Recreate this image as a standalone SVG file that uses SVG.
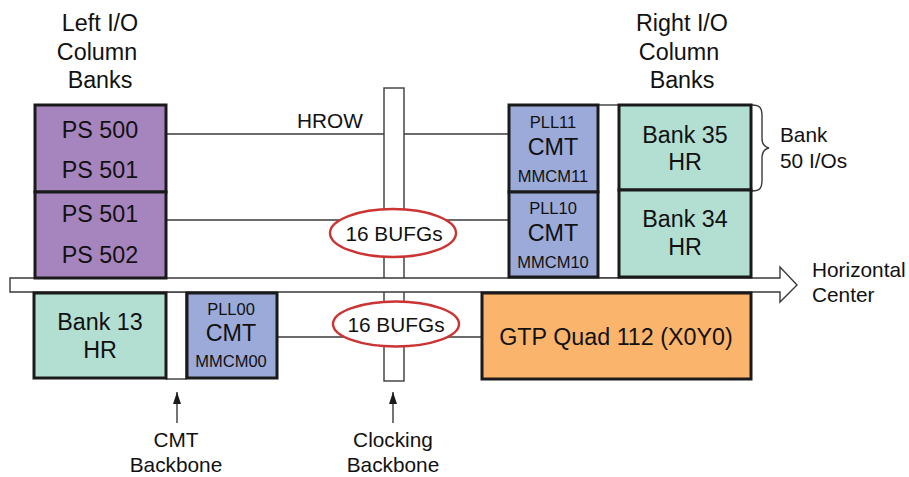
<svg xmlns="http://www.w3.org/2000/svg" width="909" height="477" viewBox="0 0 909 477">
<style>
text{font-family:"Liberation Sans",Arial,Helvetica,sans-serif;fill:#111;text-anchor:middle}
.t23{font-size:23.3px}
.t21{font-size:20.8px}
.t16{font-size:16.5px}
.box{stroke:#1a1a1a;stroke-width:3}
.ps{fill:#A685BF}
.hr{fill:#B3DFD2}
.cmt{fill:#9BAAD8}
.gtp{fill:#FBB46C}
.ln{stroke:#3a3a3a;stroke-width:1.4;fill:none}
.bar{fill:#fff;stroke:#3a3a3a;stroke-width:1.4}
.ell{fill:#fff;stroke:#CC3333;stroke-width:2.4}
</style>
<defs>
<marker id="ah" markerWidth="12" markerHeight="8" refX="12" refY="4" orient="auto" markerUnits="userSpaceOnUse" viewBox="0 0 12 8">
<path d="M0,0 L12,4 L0,8 Z" fill="#1a1a1a"/>
</marker>
</defs>

<g id="connectors">
<line class="ln" x1="166" y1="134" x2="509" y2="134"/>
<line class="ln" x1="166" y1="220" x2="509" y2="220"/>
<line class="ln" x1="277" y1="337" x2="482" y2="337"/>
<rect class="bar" x="384" y="88" width="20" height="293"/>
<rect class="bar" x="598" y="105" width="21" height="173"/>
<rect class="bar" x="166" y="292" width="20" height="87"/>
<line class="ln" x1="177" y1="423" x2="177" y2="392" marker-end="url(#ah)"/>
<line class="ln" x1="393" y1="423" x2="393" y2="392" marker-end="url(#ah)"/>
<path class="ln" d="M752,105 C760,105 762,108 762,116 L762,138 C762,144 764,147 769,148 C764,149 762,152 762,158 L762,180 C762,188 760,191 752,191"/>
</g>

<g id="hcenter">
<polygon points="10,278 780,278 780,267 797,285 780,302 780,292 10,292" fill="#fff" stroke="#3a3a3a" stroke-width="1.4"/>
</g>

<g id="left-title">
<text class="t23" x="100" y="31">Left I/O</text>
<text class="t23" x="97" y="60">Column</text>
<text class="t23" x="100" y="88">Banks</text>
</g>
<g id="right-title">
<text class="t23" x="682" y="31">Right I/O</text>
<text class="t23" x="679" y="60">Column</text>
<text class="t23" x="682" y="88">Banks</text>
</g>

<g id="ps500">
<rect class="box ps" x="35" y="105" width="131" height="87"/>
<text class="t23" x="100" y="138">PS 500</text>
<text class="t23" x="100" y="178">PS 501</text>
</g>
<g id="ps501">
<rect class="box ps" x="35" y="192" width="131" height="86"/>
<text class="t23" x="100" y="222">PS 501</text>
<text class="t23" x="100" y="263">PS 502</text>
</g>

<g id="hrow-label"><text class="t21" x="330" y="128">HROW</text></g>

<g id="bufg1">
<ellipse class="ell" cx="393" cy="233" rx="63" ry="24"/>
<text class="t21" x="394" y="241">16 BUFGs</text>
</g>
<g id="bufg2">
<ellipse class="ell" cx="396" cy="324" rx="63" ry="22.5"/>
<text class="t21" x="396" y="332">16 BUFGs</text>
</g>

<g id="cmt11">
<rect class="box cmt" x="509" y="105" width="89" height="87"/>
<text class="t16" x="553" y="128">PLL11</text>
<text class="t23" x="553" y="155">CMT</text>
<text class="t16" x="553" y="182">MMCM11</text>
</g>
<g id="cmt10">
<rect class="box cmt" x="509" y="192" width="89" height="85"/>
<text class="t16" x="553" y="214">PLL10</text>
<text class="t23" x="553" y="241">CMT</text>
<text class="t16" x="553" y="268">MMCM10</text>
</g>

<g id="bank35">
<rect class="box hr" x="619" y="105" width="132" height="85"/>
<text class="t23" x="685" y="143">Bank 35</text>
<text class="t23" x="685" y="170">HR</text>
</g>
<g id="bank34">
<rect class="box hr" x="619" y="190" width="132" height="87"/>
<text class="t23" x="685" y="227">Bank 34</text>
<text class="t23" x="685" y="255">HR</text>
</g>

<g id="bank-label">
<text class="t21" x="780" y="142" style="text-anchor:start">Bank</text>
<text class="t21" x="780" y="168" style="text-anchor:start">50 I/Os</text>
</g>
<g id="hcenter-label">
<text class="t21" x="812" y="277" style="text-anchor:start">Horizontal</text>
<text class="t21" x="812" y="302" style="text-anchor:start">Center</text>
</g>

<g id="bank13">
<rect class="box hr" x="34" y="293" width="132" height="85"/>
<text class="t23" x="100" y="330">Bank 13</text>
<text class="t23" x="100" y="358">HR</text>
</g>
<g id="cmt00">
<rect class="box cmt" x="187" y="293" width="90" height="85"/>
<text class="t16" x="231" y="315">PLL00</text>
<text class="t23" x="231" y="341">CMT</text>
<text class="t16" x="231" y="367">MMCM00</text>
</g>

<g id="gtp">
<rect class="box gtp" x="482" y="293" width="269" height="86"/>
<text class="t23" x="616" y="345">GTP Quad 112 (X0Y0)</text>
</g>

<g id="cmt-backbone-label">
<text class="t21" x="176" y="447">CMT</text>
<text class="t21" x="176" y="472">Backbone</text>
</g>
<g id="clocking-backbone-label">
<text class="t21" x="393" y="447">Clocking</text>
<text class="t21" x="393" y="472">Backbone</text>
</g>
</svg>
